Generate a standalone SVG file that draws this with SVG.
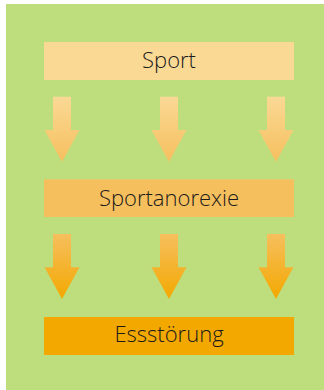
<svg xmlns="http://www.w3.org/2000/svg" width="324" height="390" viewBox="0 0 324 390">
<defs>
<linearGradient id="g1" x1="0" y1="0" x2="0" y2="1"><stop offset="0" stop-color="#FAD995"/><stop offset="1" stop-color="#F6BF5E"/></linearGradient>
<linearGradient id="g2" x1="0" y1="0" x2="0" y2="1"><stop offset="0" stop-color="#F6BF5E"/><stop offset="1" stop-color="#F3A800"/></linearGradient>
<path id="arr" d="M-9,0 H9 V33.3 H17.5 L0,65 L-17.5,33.3 H-9 Z"/>
</defs>
<style>
.lbl{font-family:"Open Sans","Noto Sans",sans-serif;font-size:22px;font-weight:300;fill:#1a1a1a;text-anchor:middle}
</style>
<rect x="6" y="4" width="318" height="386" fill="#BEDE7D"/>
<g id="connectors">
<use href="#arr" x="62" y="96.7" fill="url(#g1)"/>
<use href="#arr" x="169" y="96.7" fill="url(#g1)"/>
<use href="#arr" x="276" y="96.7" fill="url(#g1)"/>
<use href="#arr" x="62" y="234" fill="url(#g2)"/>
<use href="#arr" x="169" y="234" fill="url(#g2)"/>
<use href="#arr" x="276" y="234" fill="url(#g2)"/>
</g>
<g id="sport"><rect x="44" y="42" width="250" height="38" fill="#FAD995"/><text class="lbl" x="169" y="67.5">Sport</text></g>
<g id="sportanorexie"><rect x="44" y="179.3" width="250" height="37.7" fill="#F5BF5E"/><text class="lbl" x="169" y="206">Sportanorexie</text></g>
<g id="essstoerung"><rect x="44" y="317" width="250" height="38" fill="#F3A800"/><text class="lbl" x="169" y="342">Essstörung</text></g>
</svg>
